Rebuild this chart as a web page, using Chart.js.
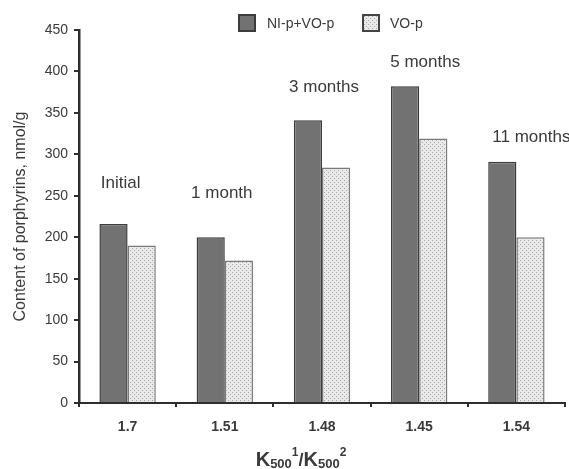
<!DOCTYPE html>
<html>
<head>
	<title>Porphyrins chart</title>
	<style>
		body { margin: 0; background: #fff; }
		#wrap { width: 569px; height: 469px; }
	</style>
</head>
<body>
	<div id="wrap">
		<canvas id="myChart" width="569" height="469"></canvas>
	</div>

	<script src="https://cdn.jsdelivr.net/npm/chart.js@4/dist/chart.umd.min.js"></script>
	<script type="text/javascript">

		// data
		var ratios = ['1.7', '1.51', '1.48', '1.45', '1.54'];
		var periods = ['Initial', '1 month', '3 months', '5 months', '11 months'];
		var niVoValues = [216, 200, 341, 382, 291];
		var voValues = [190, 172, 284, 319, 200];
		var yTicks = [0, 50, 100, 150, 200, 250, 300, 350, 400, 450];

		var seriesNames = ['NI-p+VO-p', 'VO-p'];

		var textColor = '#3a3a3a';
		var darkFill = '#727272';
		var darkLine = '#3c3c3c';
		var lightLine = '#7a7a7a';

		var ctx = document.getElementById('myChart').getContext('2d');

		// small dotted fill for the light bars
		function dotPattern() {
			var c = document.createElement('canvas');
			c.width = 4; c.height = 4;
			var g = c.getContext('2d');
			g.fillStyle = '#e9e9e9';
			g.fillRect(0, 0, 4, 4);
			g.fillStyle = '#a8a8a8';
			g.fillRect(0, 0, 1, 1);
			g.fillRect(2, 2, 1, 1);
			return ctx.createPattern(c, 'repeat');
		}
		var dots = dotPattern();

		// annotation text above each group (level in axis units, nudge in px)
		var labelPlugin = {
			id: 'extras',
			afterDraw: function (chart) {
				var c = chart.ctx;
				var xs = chart.scales.x, ys = chart.scales.y;
				var levels = [265, 253, 381, 411, 321];
				var nudge = [-7, -3, 2, 6, 15];
				c.save();
				c.fillStyle = textColor;
				c.font = '17px "Liberation Sans", Arial, sans-serif';
				c.textAlign = 'center';
				c.textBaseline = 'middle';
				for (var i = 0; i < periods.length; i++) {
					c.fillText(periods[i], xs.getPixelForValue(i) + nudge[i], ys.getPixelForValue(levels[i]));
				}

				// legend
				var boxes = [[239, darkFill, darkLine], [363, dots, '#444']];
				var texts = [267, 390];
				c.font = '14px "Liberation Sans", Arial, sans-serif';
				c.textAlign = 'left';
				for (var j = 0; j < 2; j++) {
					c.fillStyle = boxes[j][1];
					c.fillRect(boxes[j][0], 15, 16, 16);
					c.lineWidth = 2;
					c.strokeStyle = boxes[j][2];
					c.strokeRect(boxes[j][0], 15, 16, 16);
					c.fillStyle = textColor;
					c.fillText(seriesNames[j], texts[j], 24);
				}

				// x axis title K500^1/K500^2
				var parts = [
					['K', 'bold 20px "Liberation Sans", Arial, sans-serif', 0],
					['500', 'bold 13px "Liberation Sans", Arial, sans-serif', 2],
					['1', 'bold 12px "Liberation Sans", Arial, sans-serif', -10],
					['/', 'bold 18px "Liberation Sans", Arial, sans-serif', 0],
					['K', 'bold 20px "Liberation Sans", Arial, sans-serif', 0],
					['500', 'bold 13px "Liberation Sans", Arial, sans-serif', 2],
					['2', 'bold 12px "Liberation Sans", Arial, sans-serif', -10]
				];
				var total = 0;
				parts.forEach(function (p) { c.font = p[1]; total += c.measureText(p[0]).width; });
				var x = 301 - total / 2;
				c.textBaseline = 'alphabetic';
				parts.forEach(function (p) {
					c.font = p[1];
					c.fillText(p[0], x, 466 + p[2]);
					x += c.measureText(p[0]).width;
				});
				c.restore();
			}
		};

		var chart = new Chart(ctx, {
			type: 'bar',
			data: {
				labels: ratios,
				datasets: [{
					label: seriesNames[0],
					data: niVoValues,
					backgroundColor: darkFill,
					borderColor: darkLine,
					borderWidth: 1.5
				}, {
					label: seriesNames[1],
					data: voValues,
					backgroundColor: dots,
					borderColor: lightLine,
					borderWidth: 1.5
				}]
			},
			options: {
				responsive: false,
				animation: false,
				layout: { padding: { top: 30, right: 4, left: 0, bottom: 0 } },
				plugins: {
					legend: { display: false },
					tooltip: { enabled: false }
				},
				datasets: {
					bar: { categoryPercentage: 0.58, barPercentage: 1.0 }
				},
				scales: {
					x: {
						afterFit: function (s) { s.height = 66; },
						border: { color: '#2e2e2e', width: 2 },
						grid: { display: true, drawOnChartArea: false, drawTicks: true, tickLength: 4, color: '#2e2e2e', lineWidth: 2 },
						ticks: {
							color: textColor,
							padding: 12,
							font: { family: '"Liberation Sans", Arial, sans-serif', size: 14, weight: 'bold' }
						}
					},
					y: {
						min: 0,
						max: 450,
						afterFit: function (s) { s.width = 79; },
						afterBuildTicks: function (s) { s.ticks = yTicks.map(function (v) { return { value: v }; }); },
						border: { color: '#2e2e2e', width: 2.5 },
						grid: { display: true, drawOnChartArea: false, drawTicks: true, tickLength: 5, color: '#2e2e2e', lineWidth: 2 },
						ticks: {
							color: textColor,
							padding: 6,
							font: { family: '"Liberation Sans", Arial, sans-serif', size: 14 }
						},
						title: {
							display: true,
							text: 'Content of porphyrins, nmol/g',
							color: textColor,
							padding: { top: 11, bottom: 0 },
							font: { family: '"Liberation Sans", Arial, sans-serif', size: 16 }
						}
					}
				}
			},
			plugins: [labelPlugin]
		});

	</script>
</body>
</html>
